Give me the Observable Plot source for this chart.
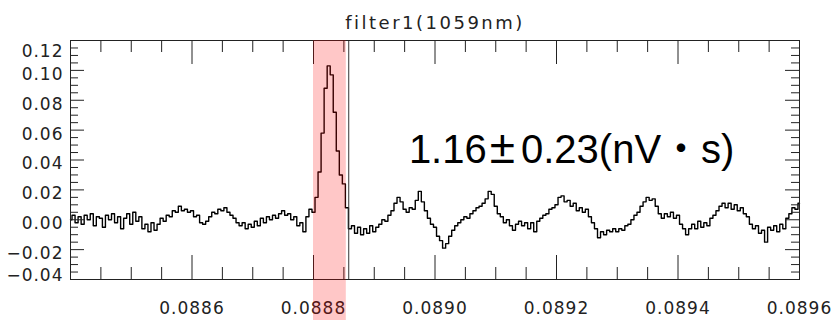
<!DOCTYPE html>
<html><head><meta charset="utf-8">
<script src="https://cdn.jsdelivr.net/npm/d3@7"></script>
<script src="https://cdn.jsdelivr.net/npm/@observablehq/plot@0.6"></script>
<style>body{margin:0;background:#fff}</style>
</head><body><div id="chart"></div>
<script>
const xStart = 0.0884, xStep = 0.000005;
const signal = [
 0.000, 0.003,-0.002, 0.002,-0.003, 0.003, 0.000, 0.004,-0.004, 0.002,
 0.001,-0.005, 0.003, 0.000, 0.004,-0.002, 0.002,-0.006, 0.001, 0.004,
-0.003, 0.005,-0.001, 0.002,-0.006,-0.003,-0.008,-0.002,-0.007,-0.003,
 0.001,-0.001, 0.003, 0.002, 0.006, 0.005, 0.009, 0.006, 0.007, 0.005,
 0.006, 0.002, 0.003,-0.002,-0.003,-0.001, 0.002, 0.005, 0.004, 0.007,
 0.006, 0.008, 0.005, 0.003, 0.001,-0.002,-0.004,-0.002,-0.006,-0.003,
-0.005,-0.001,-0.004, 0.001,-0.002, 0.002, 0.000, 0.003, 0.001, 0.004,
 0.006, 0.003, 0.004, 0.000, 0.002,-0.004,-0.002,-0.008, 0.002, 0.007,
 0.005, 0.015, 0.032, 0.058, 0.088, 0.103, 0.097, 0.072, 0.046, 0.030,
 0.024, 0.008,-0.006,-0.004,-0.009,-0.005,-0.010,-0.006,-0.009,-0.004,
-0.008,-0.005,-0.003, 0.000,-0.001, 0.003, 0.006, 0.011, 0.015, 0.012,
 0.007, 0.005, 0.008, 0.007, 0.013, 0.019, 0.012, 0.006, 0.001,-0.003,
-0.005,-0.011,-0.014,-0.019,-0.016,-0.011,-0.007,-0.004,-0.002, 0.000,
 0.002, 0.001, 0.004, 0.006, 0.008, 0.009, 0.011, 0.014, 0.019, 0.017,
 0.009, 0.004, 0.002,-0.002, 0.000,-0.004,-0.007,-0.003,-0.001,-0.004,
-0.002,-0.006,-0.002,-0.008,-0.001, 0.001, 0.003, 0.004, 0.007, 0.008,
 0.010, 0.015, 0.016, 0.012, 0.013, 0.009, 0.011, 0.006, 0.008, 0.005,
 0.007, 0.002,-0.002,-0.006,-0.012,-0.008,-0.010,-0.007,-0.008,-0.006,
-0.008,-0.006,-0.007,-0.004,-0.003, 0.000, 0.003, 0.005, 0.009, 0.012,
 0.015, 0.013, 0.014, 0.009, 0.004, 0.001, 0.004, 0.002, 0.005, 0.001,
 0.003,-0.003,-0.006,-0.010,-0.006,-0.003,-0.006,-0.001,-0.005,-0.002,
-0.004, 0.001, 0.003, 0.006, 0.009, 0.011, 0.008, 0.011, 0.007, 0.010,
 0.006, 0.008, 0.004, 0.002,-0.003,-0.006,-0.004,-0.009,-0.007,-0.015,
-0.005,-0.007,-0.004,-0.008,-0.003,-0.006, 0.001, 0.004, 0.008, 0.007,
 0.011
];
const xDomain = [0.0884, 0.0896];
const yDomain = [-0.04, 0.12];
const xMajor = [0.0884, 0.0886, 0.0888, 0.0890, 0.0892, 0.0894, 0.0896];
const xLabels = [0.0886, 0.0888, 0.0890, 0.0892, 0.0894, 0.0896];
const xMinor = [0.08845, 0.08850, 0.08855, 0.08865, 0.08870, 0.08875, 0.08885, 0.08890, 0.08895,
  0.08905, 0.08910, 0.08915, 0.08925, 0.08930, 0.08935, 0.08945, 0.08950, 0.08955];
const yMajor = [-0.04, -0.02, 0.00, 0.02, 0.04, 0.06, 0.08, 0.10, 0.12];
const yLabelsMid = [-0.02, 0.00, 0.02, 0.04, 0.06, 0.08, 0.10];
const yLabelTop = [0.12];
const yLabelBottom = [-0.04];
const yMinor = [-0.035, -0.030, -0.025, -0.015, -0.010, -0.005, 0.005, 0.010, 0.015,
  0.025, 0.030, 0.035, 0.045, 0.050, 0.055, 0.065, 0.070, 0.075, 0.085, 0.090, 0.095,
  0.105, 0.110, 0.115];
const gate = [{x1: 0.08880, x2: 0.088854}];
const markerX = [0.088858];
const titleText = ["filter1(1059nm)"];
const annotation = [{x: 0.088957, y: 0.0377, text: "1.16±0.23(nV・s)"}];

const data = signal.map((v, i) => ({x: xStart + i * xStep, y: v}));
const idlFont = "DejaVu Sans, sans-serif";
const fmtX = d3.format(".4f"), fmtY = d3.format(".2f");

// layout (pixels)
const W = 832, H = 320, mT = 40, mL = 70, mR = 33, mB = 41;
const frameW = W - mL - mR, frameH = H - mT - mB;

const chart = Plot.plot({
  width: W, height: H,
  marginTop: mT, marginLeft: mL, marginRight: mR, marginBottom: mB,
  x: {domain: xDomain, axis: null},
  y: {domain: yDomain, axis: null},
  marks: [
    Plot.lineY(data, {x: "x", y: "y", curve: "step", stroke: "black", strokeWidth: 1.4}),
    Plot.ruleX(markerX, {x: d => d, stroke: "#333", strokeWidth: 1}),
    Plot.axisX(xLabels, {anchor: "bottom", tickSize: 0, tickPadding: 22, tickFormat: fmtX, label: null,
      fontSize: 17, fontFamily: idlFont, fill: "#222"}),
    Plot.axisY(yLabelsMid, {anchor: "left", tickSize: 0, tickPadding: 7, tickFormat: fmtY, label: null,
      fontSize: 17, fontFamily: idlFont, fill: "#222", dy: 4}),
    Plot.axisY(yLabelTop, {anchor: "left", tickSize: 0, tickPadding: 7, tickFormat: fmtY, label: null,
      fontSize: 17, fontFamily: idlFont, fill: "#222", dy: 11}),
    Plot.axisY(yLabelBottom, {anchor: "left", tickSize: 0, tickPadding: 7, tickFormat: fmtY, label: null,
      fontSize: 17, fontFamily: idlFont, fill: "#222", dy: -4}),
    Plot.text(titleText, {text: d => d, frameAnchor: "top", lineAnchor: "bottom", dy: -12,
      fontSize: 18, fontFamily: idlFont, fill: "#222"}),
    Plot.text(annotation, {x: "x", y: "y", text: "text", textAnchor: "start", lineAnchor: "bottom",
      fontSize: 40, fontFamily: "Liberation Sans, Arial, sans-serif", fill: "black"}),
    Plot.frame({stroke: "#222"}),
    Plot.rect(gate, {x1: "x1", x2: "x2", insetBottom: -mB, fill: "red", fillOpacity: 0.22})
  ]
});
document.getElementById("chart").appendChild(chart);

const svgNS = "http://www.w3.org/2000/svg";

// inward IDL-style ticks on all four sides, placed with the plot's own scales
try {
  const sx = chart.scale("x"), sy = chart.scale("y");
  const left = mL, right = W - mR, top = mT, bottom = H - mB;
  const fx = v => {
    const p = sx && sx.apply ? sx.apply(v) : NaN;
    return Number.isFinite(p) && p >= left - 1 && p <= right + 1
      ? p : left + (v - xDomain[0]) / (xDomain[1] - xDomain[0]) * frameW;
  };
  const fy = v => {
    const p = sy && sy.apply ? sy.apply(v) : NaN;
    return Number.isFinite(p) && p >= top - 1 && p <= bottom + 1
      ? p : bottom - (v - yDomain[0]) / (yDomain[1] - yDomain[0]) * frameH;
  };
  const g = document.createElementNS(svgNS, "g");
  g.setAttribute("stroke", "#222");
  g.setAttribute("stroke-width", "1");
  g.setAttribute("fill", "none");
  const add = (a, b, c, d) => {
    const l = document.createElementNS(svgNS, "line");
    l.setAttribute("x1", String(a)); l.setAttribute("y1", String(b));
    l.setAttribute("x2", String(c)); l.setAttribute("y2", String(d));
    g.appendChild(l);
  };
  for (const [vals, len] of [[xMajor, 24], [xMinor, 12]]) {
    for (const v of vals) {
      const px = fx(v) + 0.5;
      add(px, bottom, px, bottom - len);
      add(px, top, px, top + len);
    }
  }
  for (const [vals, len] of [[yMajor, 14], [yMinor, 8]]) {
    for (const v of vals) {
      const py = fy(v) + 0.5;
      add(left, py, left + len, py);
      add(right, py, right - len, py);
    }
  }
  chart.insertBefore(g, chart.lastChild);
} catch (e) {}

// typographic touches: wide IDL-style lettering, wide Japanese-style ± and ・
for (const t of chart.querySelectorAll("text")) {
  const s = t.textContent;
  if (s === titleText[0]) t.style.letterSpacing = "2.5px";
  else if (/^[−-]?\d\.\d+$/.test(s)) t.style.letterSpacing = "1px";
  else if (s.includes("±")) {
    t.textContent = "";
    for (const part of s.split(/(±|・)/)) {
      if (!part) continue;
      const ts = document.createElementNS(svgNS, "tspan");
      ts.textContent = part;
      if (part === "±") {
        ts.setAttribute("dx", "3");
        ts.style.fontSize = "46px";
        ts.style.letterSpacing = "6px";
      } else if (part === "・") {
        ts.setAttribute("font-family", "Noto Sans CJK JP");
      }
      t.appendChild(ts);
    }
  }
}
</script></body></html>
